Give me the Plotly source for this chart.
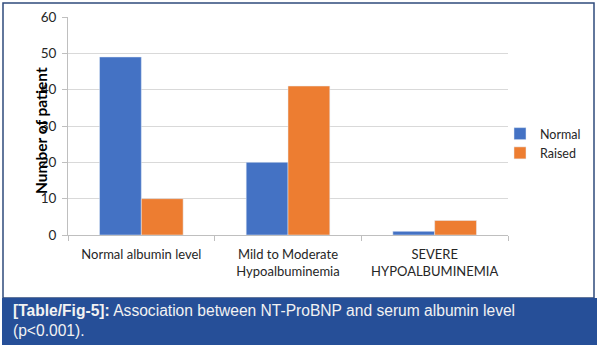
import plotly.graph_objects as go

# Data
categories = ["Normal albumin level", "Mild to Moderate<br>Hypoalbuminemia", "SEVERE<br>HYPOALBUMINEMIA"]
normal_counts = [49, 20, 1]
raised_counts = [10, 41, 4]
y_ticks = [0, 10, 20, 30, 40, 50, 60]

W, H = 599, 349
PL, PR, PT, PB = 68, 508, 17, 235  # plot area in pixels


def px_x(p):
    return (p - PL) / (PR - PL)


def px_y(p):
    return (PB - p) / (PB - PT)


fig = go.Figure()
fig.add_trace(go.Bar(name="Normal", x=categories, y=normal_counts, marker_color="#4472C4"))
fig.add_trace(go.Bar(name="Raised", x=categories, y=raised_counts, marker_color="#ED7D31"))

tick_font = dict(family="Lato, Carlito, sans-serif", size=13, color="#262626")

fig.update_layout(
    width=W, height=H,
    margin=dict(l=PL, r=W - PR, t=PT, b=H - PB, autoexpand=False),
    paper_bgcolor="white", plot_bgcolor="white",
    barmode="group", bargap=0.43, bargroupgap=0,
    showlegend=True,
    legend=dict(x=px_x(500), y=px_y(119), xanchor="left", yanchor="top",
                font=dict(family="Lato, Carlito, sans-serif", size=12.5, color="#262626"),
                itemwidth=30, tracegroupgap=3, bgcolor="rgba(0,0,0,0)"),
    font=tick_font,
)

fig.update_xaxes(
    showgrid=False, showline=True, linecolor="#bfbfbf", linewidth=1,
    ticks="outside", tickson="boundaries", ticklen=5, tickcolor="#bfbfbf",
    tickfont=tick_font, ticklabelstandoff=7, automargin=False,
)
fig.update_yaxes(
    range=[0, 60], tickvals=y_ticks, showgrid=True, gridcolor="#d9d9d9", gridwidth=1,
    showline=True, linecolor="#bfbfbf", linewidth=1,
    ticks="outside", ticklen=5, tickcolor="#bfbfbf",
    tickfont=dict(family="Lato, Carlito, sans-serif", size=13.5, color="#262626"),
    ticklabelstandoff=3, zeroline=False, automargin=False,
)

# Axis title drawn over the tick labels
fig.add_annotation(
    text="<b>Number of patient</b>", textangle=-90,
    x=px_x(30), y=px_y(131), xref="paper", yref="paper",
    showarrow=False, font=dict(family="Lato, Carlito, sans-serif", size=15.5, color="#000000"),
)

# Frame around the chart
fig.add_shape(type="rect", xref="paper", yref="paper",
              x0=px_x(3), x1=px_x(594), y0=px_y(298), y1=px_y(3),
              line=dict(color="#2f4b7c", width=1.5), fillcolor="rgba(0,0,0,0)", layer="above")

# Caption band
fig.add_shape(type="rect", xref="paper", yref="paper",
              x0=px_x(2), x1=px_x(597), y0=px_y(345), y1=px_y(298),
              line=dict(width=0), fillcolor="#264f98", layer="above")

cap_font = dict(family="Liberation Sans, Arial, sans-serif", size=15.6, color="#f2f2f2")
fig.add_annotation(
    text="<b>[Table/Fig-5]:</b> Association between NT-ProBNP and serum albumin level<br>(p&lt;0.001).",
    x=px_x(11), y=px_y(300), xref="paper", yref="paper", xanchor="left", yanchor="top",
    align="left", showarrow=False, font=cap_font,
)

fig.write_html("out.html")
